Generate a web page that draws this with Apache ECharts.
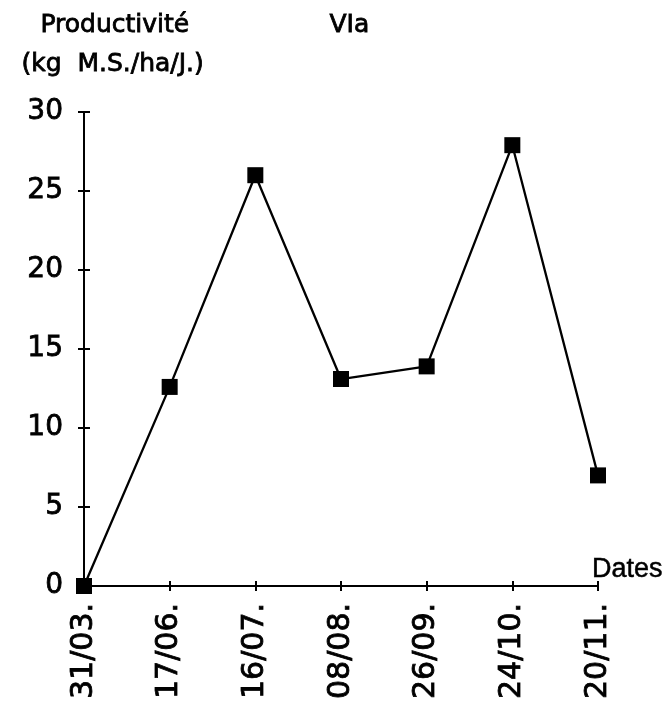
<!DOCTYPE html>
<html>
<head>
<meta charset="utf-8">
<script src="https://cdn.jsdelivr.net/npm/echarts@6/dist/echarts.min.js"></script>
<style>
  html, body { margin: 0; padding: 0; background: #fff; }
  #chart { width: 669px; height: 708px; }
</style>
</head>
<body>
<div id="chart"></div>
<script>
// Productivité (kg M.S./ha/J.) by cutting date, site VIa
const dates = ['31/03.', '17/06.', '16/07.', '08/08.', '26/09.', '24/10.', '20/11.'];
const productivite = [0, 12.6, 26.0, 13.1, 13.9, 27.9, 7.0];
const yTicks = { min: 0, max: 30, interval: 5 };

const TEXT_FONT = '"DejaVu Sans", "Liberation Sans", sans-serif';
const NAME_FONT = '"Liberation Sans", Arial, Helvetica, sans-serif';
// a thin outline in the text colour gives the heavier printed look
const INK = { textBorderColor: '#000', textBorderWidth: 0.8 };
const chart = echarts.init(document.getElementById('chart'), null, { renderer: 'canvas' });

const titleText = (text, left, top) => ({
  type: 'text', left: left, top: top,
  style: { text: text, fontSize: 25, fontFamily: TEXT_FONT, fill: '#000', stroke: '#000', lineWidth: 0.8 }
});

const baseX = {
  type: 'category',
  data: dates,
  boundaryGap: false,
  position: 'bottom'
};
const baseY = {
  type: 'value',
  min: yTicks.min,
  max: yTicks.max,
  interval: yTicks.interval,
  position: 'left',
  splitLine: { show: false }
};
const tickStyle = { color: '#000', width: 2 };

chart.setOption({
  animation: false,
  backgroundColor: '#ffffff',
  grid: { left: 84, right: 71, top: 112, bottom: 122, containLabel: false },
  graphic: [
    titleText('Productivité', 40, 13),
    titleText('(kg  M.S./ha/J.)', 21, 52),
    titleText('VIa', 329, 13)
  ],
  xAxis: [
    Object.assign({}, baseX, {
      name: 'Dates',
      nameLocation: 'end',
      nameGap: -6,
      nameTextStyle: Object.assign({ color: '#000', fontSize: 27, fontFamily: NAME_FONT, align: 'left', verticalAlign: 'bottom', padding: [0, 0, 3, 0] }, { textBorderColor: '#000', textBorderWidth: 0.5 }),
      axisLine: { show: true, lineStyle: { color: '#000', width: 2 } },
      axisTick: { show: true, inside: false, length: 5, lineStyle: tickStyle },
      axisLabel: Object.assign({ show: true, rotate: 90, margin: 17, color: '#000', fontSize: 30, fontFamily: TEXT_FONT }, INK)
    }),
    Object.assign({}, baseX, {
      axisLine: { show: false },
      axisTick: { show: true, inside: true, length: 5, lineStyle: tickStyle },
      axisLabel: { show: false }
    })
  ],
  yAxis: [
    Object.assign({}, baseY, {
      axisLine: { show: true, lineStyle: { color: '#000', width: 2 } },
      axisTick: { show: true, inside: false, length: 6, lineStyle: tickStyle },
      axisLabel: Object.assign({ show: true, align: 'right', margin: 21, color: '#000', fontSize: 28, fontFamily: TEXT_FONT, padding: [4, 0, 0, 0] }, INK)
    }),
    Object.assign({}, baseY, {
      axisLine: { show: false },
      axisTick: { show: true, inside: true, length: 6, lineStyle: tickStyle },
      axisLabel: { show: false }
    })
  ],
  series: [{
    type: 'line',
    xAxisIndex: 0,
    yAxisIndex: 0,
    data: productivite,
    symbol: 'rect',
    symbolSize: 16,
    showAllSymbol: true,
    clip: false,
    lineStyle: { color: '#000', width: 2.3 },
    itemStyle: { color: '#000', borderWidth: 0 }
  }]
});
</script>
</body>
</html>
